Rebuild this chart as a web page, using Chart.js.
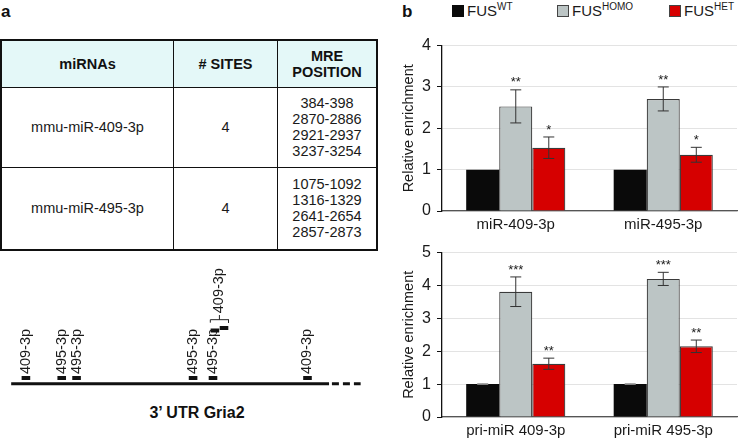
<!DOCTYPE html>
<html><head><meta charset="utf-8">
<script src="https://cdn.jsdelivr.net/npm/chart.js@4/dist/chart.umd.min.js"></script>
<style>
html,body{margin:0;padding:0;background:#fff;width:739px;height:444px;overflow:hidden;font-family:"Liberation Sans",Arial,sans-serif;color:#1a1a1a;}
.abs{position:absolute;}
.panel{font-weight:bold;font-size:17px;color:#111;}
table{border-collapse:collapse;}
td{border:1px solid #111;text-align:center;vertical-align:middle;font-size:14.5px;padding:0;color:#1a1a1a;}
th{border:1px solid #111;background:#e4f8f8;font-size:14.5px;font-weight:bold;padding:0;line-height:16px;color:#111;}
.pos{line-height:16px;}
.leg{position:absolute;top:2px;font-size:15px;display:flex;align-items:center;color:#1a1a1a;}
.sq{width:12px;height:12px;box-sizing:border-box;margin-right:3px;}
.leg sup{font-size:10px;position:relative;top:-4px;vertical-align:baseline;}
</style></head>
<body>
<div class="abs panel" style="left:1px;top:2px;">a</div>
<div class="abs panel" style="left:402px;top:2px;">b</div>

<table class="abs" style="left:0;top:39px;width:378px;height:211px;border:2px solid #111;">
<tr style="height:47px"><th style="width:171px">miRNAs</th><th style="width:103px"># SITES</th><th>MRE<br>POSITION</th></tr>
<tr style="height:80px"><td id="r1c1"></td><td id="r1c2"></td><td id="r1c3" class="pos"></td></tr>
<tr style="height:83px"><td id="r2c1"></td><td id="r2c2"></td><td id="r2c3" class="pos"></td></tr>
</table>

<div class="abs" style="left:0;top:260px;width:390px;height:140px;"><canvas id="diag"></canvas></div>
<div class="abs" style="left:0;width:394px;top:404px;text-align:center;font-weight:bold;font-size:16px;color:#111;">3’ UTR Gria2</div>

<div class="leg" style="left:452px;"><div class="sq" style="background:#0a0a0a"></div>FUS<sup>WT</sup></div>
<div class="leg" style="left:557px;"><div class="sq" style="background:#bcc5c5;border:1.5px solid #444"></div>FUS<sup>HOMO</sup></div>
<div class="leg" style="left:669px;"><div class="sq" style="background:#d60000;border:1.5px solid #444"></div>FUS<sup>HET</sup></div>

<div class="abs" style="left:400px;top:30px;width:339px;height:208px;"><canvas id="c1"></canvas></div>
<div class="abs" style="left:400px;top:237px;width:339px;height:207px;"><canvas id="c2"></canvas></div>

<script>
// ---------- Table data ----------
const tableMiRNAs = ['mmu-miR-409-3p', 'mmu-miR-495-3p'];
const tableSites = [4, 4];
const tablePositions = [
  ['384-398', '2870-2886', '2921-2937', '3237-3254'],
  ['1075-1092', '1316-1329', '2641-2654', '2857-2873']
];

// ---------- Diagram data (3' UTR map, diagram units) ----------
const siteLabels = ['409-3p', '495-3p', '495-3p', '495-3p', '495-3p', '409-3p', '409-3p', '409-3p'];
const siteX = [18.4, 55.8, 71.3, 193, 213.8, 215.8, 225.3, 312.5];
const siteY = [6.5, 6.5, 6.5, 6.5, 6.5, 60.3, 63.3, 6.5];
const siteShowLabel = [true, true, true, true, true, false, false, true];
const bracketLabel = '409-3p';
const utrLine = [[3, 0], [335, 0]];
const utrDash = [[338, 0], [368, 0]];
const bracketPath = [[211, 69.3], [211, 72.7], [230, 72.7], [230, 69.3]];
const bracketStem = [[220.5, 72.7], [220.5, 78]];

// ---------- Bar chart data ----------
const seriesNames = ['FUS WT', 'FUS HOMO', 'FUS HET'];
const cats1 = ['miR-409-3p', 'miR-495-3p'];
const wt1 = [1, 1];
const homo1 = [2.53, 2.71];
const het1 = [1.53, 1.36];
const wt1Err = [0, 0];
const homo1Err = [0.40, 0.29];
const het1Err = [0.26, 0.18];
const homo1Sig = ['**', '**'];
const het1Sig = ['*', '*'];
const yMax1 = 4;

const cats2 = ['pri-miR 409-3p', 'pri-miR 495-3p'];
const wt2 = [1, 1];
const homo2 = [3.81, 4.20];
const het2 = [1.62, 2.15];
const wt2Err = [0.01, 0.01];
const homo2Err = [0.45, 0.20];
const het2Err = [0.17, 0.19];
const homo2Sig = ['***', '***'];
const het2Sig = ['**', '**'];
const yMax2 = 5;

// ---------- Fill table ----------
for (let r = 0; r < 2; r++) {
  document.getElementById('r' + (r + 1) + 'c1').textContent = tableMiRNAs[r];
  document.getElementById('r' + (r + 1) + 'c2').textContent = tableSites[r];
  document.getElementById('r' + (r + 1) + 'c3').innerHTML = tablePositions[r].join('<br>');
}

const FONT = '"Liberation Sans", Arial, sans-serif';
Chart.defaults.font.family = FONT;
Chart.defaults.color = '#1a1a1a';
Chart.defaults.animation = false;

// ---------- Diagram ----------
const pts = a => a.map(p => ({x: p[0], y: p[1]}));
const siteLabelPlugin = {
  id: 'siteLabels',
  afterDatasetsDraw(chart) {
    const ctx = chart.ctx;
    const xs = chart.scales.x, ys = chart.scales.y;
    ctx.save();
    ctx.fillStyle = '#1a1a1a';
    ctx.font = '14.5px ' + FONT;
    ctx.textAlign = 'left';
    ctx.textBaseline = 'middle';
    const draw = (t, x, y) => {
      ctx.save();
      ctx.translate(xs.getPixelForValue(x), ys.getPixelForValue(y));
      ctx.rotate(-Math.PI / 2);
      ctx.fillText(t, 0, 0);
      ctx.restore();
    };
    for (let i = 0; i < siteLabels.length; i++) {
      if (siteShowLabel[i]) draw(siteLabels[i], siteX[i], siteY[i] + 4.5);
    }
    draw(bracketLabel, bracketStem[1][0], bracketStem[1][1] + 2);
    ctx.restore();
  }
};
new Chart(document.getElementById('diag'), {
  type: 'scatter',
  data: {
    datasets: [
      {data: pts(utrLine), showLine: true, borderColor: '#111', borderWidth: 3, pointRadius: 0},
      {data: pts(utrDash), showLine: true, borderColor: '#111', borderWidth: 3, borderDash: [7, 4], pointRadius: 0},
      {data: pts(bracketPath), showLine: true, borderColor: '#222', borderWidth: 1, pointRadius: 0},
      {data: pts(bracketStem), showLine: true, borderColor: '#222', borderWidth: 1, pointRadius: 0},
      {data: siteX.map((x, i) => ({x, y: siteY[i]})), showLine: false, pointStyle: 'line',
       pointRadius: 4.3, pointBorderWidth: 4, pointBorderColor: '#111', pointHoverRadius: 4.3}
    ]
  },
  options: {
    responsive: true, maintainAspectRatio: false,
    layout: {padding: 0},
    plugins: {legend: {display: false}, tooltip: {enabled: false}},
    scales: {
      x: {type: 'linear', min: 0, max: 390, display: false},
      y: {type: 'linear', min: -9, max: 131, display: false}
    }
  },
  plugins: [siteLabelPlugin]
});

// ---------- Bar charts ----------
const errPlugin = {
  id: 'errBars',
  afterDatasetsDraw(chart) {
    const ctx = chart.ctx, ys = chart.scales.y;
    const errs = chart.options.plugins.errBars.errs;
    const sigs = chart.options.plugins.errBars.sigs;
    ctx.save();
    chart.data.datasets.forEach((ds, di) => {
      const meta = chart.getDatasetMeta(di);
      meta.data.forEach((bar, i) => {
        const v = ds.data[i], e = errs[di][i];
        const x = bar.x;
        const yt = ys.getPixelForValue(v + e), yb = ys.getPixelForValue(v - e);
        if (e > 0) {
          ctx.strokeStyle = di === 0 ? '#888' : '#333';
          ctx.lineWidth = 1;
          ctx.beginPath();
          ctx.moveTo(x, yt); ctx.lineTo(x, yb);
          ctx.moveTo(x - 5.5, yt); ctx.lineTo(x + 5.5, yt);
          ctx.moveTo(x - 5.5, yb); ctx.lineTo(x + 5.5, yb);
          ctx.stroke();
        }
        const s = sigs[di] ? sigs[di][i] : '';
        if (s) {
          ctx.fillStyle = '#1a1a1a';
          ctx.font = '13px ' + FONT;
          ctx.textAlign = 'center';
          ctx.textBaseline = 'middle';
          ctx.fillText(s, x, yt - 7);
        }
      });
    });
    ctx.restore();
  }
};

function barChart(id, cats, wt, homo, het, errs, sigs, yMax, padTop) {
  return new Chart(document.getElementById(id), {
    type: 'bar',
    data: {
      labels: cats,
      datasets: [
        {label: seriesNames[0], data: wt, backgroundColor: '#0a0a0a', borderColor: '#0a0a0a', borderWidth: 0},
        {label: seriesNames[1], data: homo, backgroundColor: '#bcc5c5', borderColor: '#3a3a3a', borderWidth: 1.2},
        {label: seriesNames[2], data: het, backgroundColor: '#d60000', borderColor: '#3a3a3a', borderWidth: 1.2}
      ]
    },
    options: {
      responsive: true, maintainAspectRatio: false,
      layout: {padding: {top: padTop, right: 2, left: 0, bottom: 0}},
      datasets: {bar: {categoryPercentage: 0.672, barPercentage: 1.0}},
      plugins: {legend: {display: false}, tooltip: {enabled: false}, errBars: {errs, sigs}},
      scales: {
        x: {
          grid: {display: false, drawTicks: false},
          border: {display: true, color: '#555', width: 1.2},
          ticks: {font: {size: 15}, color: '#1a1a1a', padding: 5, maxRotation: 0},
          afterFit: s => { s.height = 27; }
        },
        y: {
          min: 0, max: yMax,
          ticks: {stepSize: 1, font: {size: 16}, color: '#1a1a1a', padding: 6},
          grid: {color: '#e3e3e3', lineWidth: 1, tickColor: '#111', tickLength: 5, drawTicks: true},
          border: {display: true, color: '#111', width: 1.3},
          title: {display: true, text: 'Relative enrichment', font: {size: 14.5}, color: '#1a1a1a', padding: {top: 0, bottom: 0}},
          afterFit: s => { s.width = 42; }
        }
      }
    },
    plugins: [errPlugin]
  });
}
barChart('c1', cats1, wt1, homo1, het1, [wt1Err, homo1Err, het1Err], [null, homo1Sig, het1Sig], yMax1, 12);
barChart('c2', cats2, wt2, homo2, het2, [wt2Err, homo2Err, het2Err], [null, homo2Sig, het2Sig], yMax2, 10);
</script>
</body></html>
